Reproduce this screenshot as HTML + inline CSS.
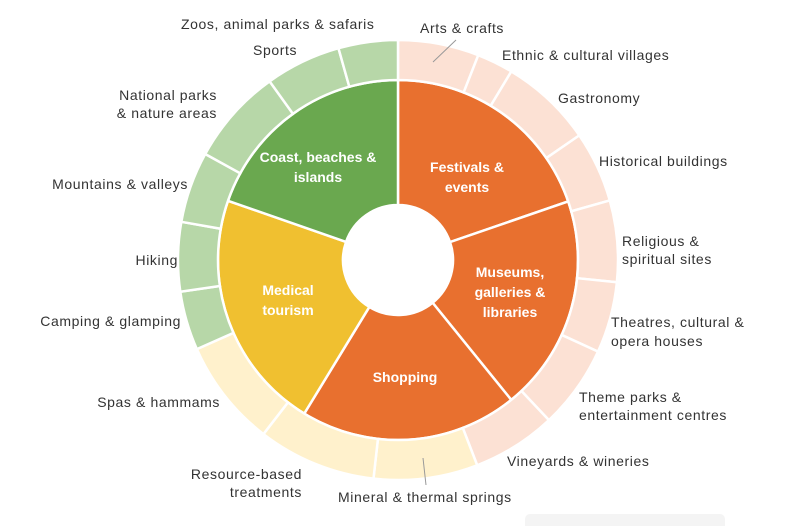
<!DOCTYPE html>
<html><head><meta charset="utf-8">
<style>
html,body{margin:0;padding:0;background:#fff;}
svg{display:block;}
text{font-family:"Liberation Sans",sans-serif;}
.l{font-size:14px;fill:#333;letter-spacing:0.6px;}
.w{font-size:14px;fill:#fff;font-weight:bold;}
</style></head>
<body>
<svg id="s" width="807" height="526" viewBox="0 0 807 526" xmlns="http://www.w3.org/2000/svg">
<g id="g"></g>
<line x1="433" y1="62" x2="456" y2="40" stroke="#999" stroke-width="1"/>
<line x1="423" y1="458" x2="426" y2="485" stroke="#999" stroke-width="1"/>
<rect x="525" y="514" width="200" height="20" rx="5" fill="#f4f4f4"/>
<text class="l" x="181" y="29">Zoos, animal parks &amp; safaris</text>
<text class="l" x="253" y="55">Sports</text>
<text class="l" x="420" y="33">Arts &amp; crafts</text>
<text class="l" x="502" y="60">Ethnic &amp; cultural villages</text>
<text class="l" x="558" y="103">Gastronomy</text>
<text class="l" x="599" y="166">Historical buildings</text>
<text class="l" x="622" y="246">Religious &amp;</text>
<text class="l" x="622" y="264">spiritual sites</text>
<text class="l" x="611" y="327">Theatres, cultural &amp;</text>
<text class="l" x="611" y="346">opera houses</text>
<text class="l" x="579" y="402">Theme parks &amp;</text>
<text class="l" x="579" y="420">entertainment centres</text>
<text class="l" x="507" y="466">Vineyards &amp; wineries</text>
<text class="l" x="338" y="502">Mineral &amp; thermal springs</text>
<text class="l" x="302" y="479" text-anchor="end">Resource-based</text>
<text class="l" x="302" y="497" text-anchor="end">treatments</text>
<text class="l" x="220" y="407" text-anchor="end">Spas &amp; hammams</text>
<text class="l" x="181" y="326" text-anchor="end">Camping &amp; glamping</text>
<text class="l" x="178" y="265" text-anchor="end">Hiking</text>
<text class="l" x="188" y="189" text-anchor="end">Mountains &amp; valleys</text>
<text class="l" x="217" y="100" text-anchor="end">National parks</text>
<text class="l" x="217" y="118" text-anchor="end">&amp; nature areas</text>
<text class="w" x="318" y="162" text-anchor="middle">Coast, beaches &amp;</text>
<text class="w" x="318" y="182" text-anchor="middle">islands</text>
<text class="w" x="467" y="172" text-anchor="middle">Festivals &amp;</text>
<text class="w" x="467" y="192" text-anchor="middle">events</text>
<text class="w" x="510" y="277" text-anchor="middle">Museums,</text>
<text class="w" x="510" y="297" text-anchor="middle">galleries &amp;</text>
<text class="w" x="510" y="317" text-anchor="middle">libraries</text>
<text class="w" x="288" y="295" text-anchor="middle">Medical</text>
<text class="w" x="288" y="315" text-anchor="middle">tourism</text>
<text class="w" x="405" y="382" text-anchor="middle">Shopping</text>
</svg>
<script>
var cx=398,cy=260;
function p(r,a){a=a*Math.PI/180;return [cx+r*Math.sin(a),cy-r*Math.cos(a)];}
function seg(r0,r1,a0,a1,c){var A=p(r1,a0),B=p(r1,a1),C=p(r0,a1),D=p(r0,a0),l=(a1-a0)>180?1:0;
return '<path d="M'+A+' A'+r1+','+r1+' 0 '+l+' 1 '+B+' L'+C+' A'+r0+','+r0+' 0 '+l+' 0 '+D+' Z" fill="'+c+'" stroke="#fff" stroke-width="2.5"/>';}
var o='#E8702F',gr='#6AA84F',y='#F0C030',lg='#B7D7A8',pe='#FCE1D4',ly='#FFF1CC';
var inner=[[0,71,o],[71,141,o],[141,211.4,o],[211.4,289.2,y],[289.2,360,gr]];
var ob=[0,21.4,31,55.5,74.3,95.8,114.6,136.7,158.9,186.4,217.7,246.1,261.7,280,298.8,324.3,344.3,360];
var oc=[pe,pe,pe,pe,pe,pe,pe,pe,ly,ly,ly,lg,lg,lg,lg,lg,lg];
var h='';
for(var i=0;i<inner.length;i++)h+=seg(55,180,inner[i][0],inner[i][1],inner[i][2]);
for(var i=0;i<oc.length;i++)h+=seg(180,220,ob[i],ob[i+1],oc[i]);
document.getElementById('g').innerHTML=h;
</script>
</body></html>
